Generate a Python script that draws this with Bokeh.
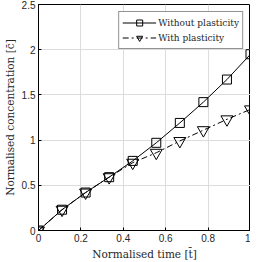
from bokeh.plotting import figure
from bokeh.models import NumeralTickFormatter, FixedTicker, Legend, LegendItem
from bokeh.embed import file_html
from bokeh.resources import INLINE

t = [0, 1/9, 2/9, 3/9, 4/9, 5/9, 6/9, 7/9, 8/9, 1.0]
without_plasticity = [0, 0.23, 0.42, 0.59, 0.77, 0.97, 1.19, 1.42, 1.67, 1.95]
with_plasticity = [0, 0.23, 0.42, 0.59, 0.75, 0.86, 0.99, 1.11, 1.23, 1.34]
x_ticks = [0, 0.2, 0.4, 0.6, 0.8, 1]
y_ticks = [0, 0.5, 1, 1.5, 2, 2.5]

p = figure(width=250, height=262, output_backend="svg", toolbar_location=None,
           x_range=(0, 1), y_range=(0, 2.5),
           min_border_left=2, min_border_right=0, min_border_top=4, min_border_bottom=0)

p.outline_line_color = "black"
p.outline_line_width = 1
p.background_fill_color = "white"
p.border_fill_color = "white"

serif = "DejaVu Serif"
sans = "Liberation Sans"

for ax in (p.xaxis[0], p.yaxis[0]):
    ax.formatter = NumeralTickFormatter(format="0.[0]")
    ax.major_label_text_font = sans
    ax.major_label_text_font_size = "10px"
    ax.major_label_text_color = "#262626"
    ax.axis_label_text_font = serif
    ax.axis_label_text_font_size = "10.5px"
    ax.axis_label_text_font_style = "normal"
    ax.axis_label_text_color = "#262626"
    ax.major_tick_in = 3
    ax.major_tick_out = 0
    ax.minor_tick_line_color = None
    ax.axis_line_color = "black"
    ax.major_label_standoff = 3
    ax.axis_label_standoff = 3

p.xaxis[0].ticker = FixedTicker(ticks=x_ticks)
p.yaxis[0].ticker = FixedTicker(ticks=y_ticks)
p.xaxis[0].axis_label = "Normalised time [t̄]"
p.yaxis[0].axis_label = "Normalised concentration [c̄]"

p.xgrid.ticker = FixedTicker(ticks=x_ticks)
p.ygrid.ticker = FixedTicker(ticks=y_ticks)
p.grid.grid_line_color = "#dcdcdc"
p.grid.grid_line_width = 1

l1 = p.line(t, without_plasticity, line_color="black", line_width=1)
m1 = p.scatter(t, without_plasticity, marker="square", size=9, fill_color=None,
               line_color="black", line_width=1)
l2 = p.line(t, with_plasticity, line_color="black", line_width=1, line_dash="6 3 2 3")
m2 = p.scatter(t, with_plasticity, marker="inverted_triangle", size=12, fill_color=None,
               line_color="black", line_width=1)

legend = Legend(items=[
    LegendItem(label="Without plasticity", renderers=[l1, m1]),
    LegendItem(label="With plasticity", renderers=[l2, m2]),
], location="top_right")
legend.label_text_font = serif
legend.label_text_font_size = "9px"
legend.label_text_color = "#262626"
legend.border_line_color = "#262626"
legend.border_line_width = 1
legend.glyph_width = 34
legend.glyph_height = 15
legend.label_standoff = 2
legend.padding = 3
legend.spacing = 0
legend.margin = 7
legend.label_height = 15
p.add_layout(legend)

open("out.html", "w").write(file_html(p, INLINE))
